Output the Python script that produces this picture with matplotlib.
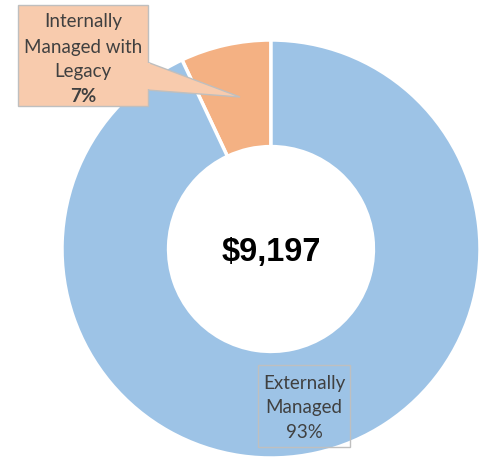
import matplotlib.pyplot as plt
from matplotlib.patches import Rectangle, Polygon

inner_lines = ["Internally", "Managed with", "Legacy"]
outer_lines = ["Externally", "Managed"]
shares = [7, 93]
total = "$9,197"
colors = ["#F4B183", "#9DC3E6"]

W, H = 481, 462
fig = plt.figure(figsize=(W / 100, H / 100), dpi=100)
ax = fig.add_axes([0, 0, 1, 1])

cx, cy, r = 271, H - 249, 209
ax.pie(shares, colors=colors, startangle=90, counterclock=True,
       center=(cx, cy), radius=r, frame=True,
       wedgeprops=dict(width=r * 0.51, edgecolor="white", linewidth=2.5))
ax.set_xlim(0, W)
ax.set_ylim(0, H)
ax.set_aspect("equal")
ax.axis("off")

ax.text(cx, H - 253, total, ha="center", va="center", fontsize=23.5,
        fontweight="bold", color="black", family="Liberation Sans")

font = ["Lato", "DejaVu Sans"]
txt = "#404040"

# callout for the small slice
ax.add_patch(Polygon([(147, H - 62), (240, H - 97), (147, H - 90)],
                     closed=True, facecolor="#F8CBAD", edgecolor="#BFBFBF",
                     linewidth=1, zorder=3))
ax.add_patch(Rectangle((18, H - 106), 130, 101, facecolor="#F8CBAD",
                       edgecolor="#BFBFBF", linewidth=1, zorder=4))
ax.add_patch(Rectangle((146, H - 89), 4, 26, facecolor="#F8CBAD",
                       edgecolor="none", zorder=5))
for line, y in zip(inner_lines, [21, 47, 72]):
    ax.text(83, H - y, line, ha="center", va="center", fontsize=13.5,
            color=txt, family=font, zorder=6)
ax.text(83, H - 96, f"{shares[0]}%", ha="center", va="center", fontsize=13.5,
        color=txt, family=font, fontweight="bold", zorder=6)

ax.add_patch(Rectangle((258, H - 447), 92, 82, facecolor="none",
                       edgecolor="#BFBFBF", linewidth=1, zorder=4))
for line, y in zip(outer_lines, [384, 408]):
    ax.text(304, H - y, line, ha="center", va="center", fontsize=13.5,
            color=txt, family=font, zorder=6)
ax.text(304, H - 432, f"{shares[1]}%", ha="center", va="center", fontsize=13.5,
        color=txt, family=font, zorder=6)

fig.savefig("out.png", dpi=100)
